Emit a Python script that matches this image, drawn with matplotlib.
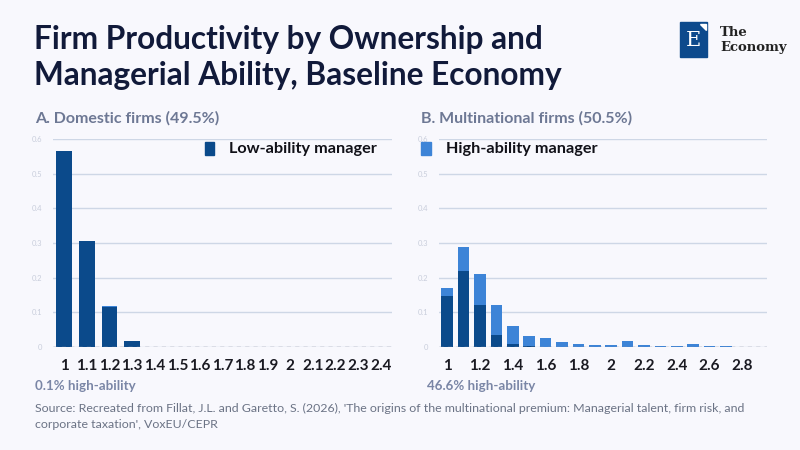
import numpy as np
import matplotlib.pyplot as plt
from matplotlib.patches import Rectangle, Polygon

# domestic firms, productivity bins 1.0 .. 2.4
dom_cats = ['1', '1.1', '1.2', '1.3', '1.4', '1.5', '1.6', '1.7', '1.8', '1.9',
            '2', '2.1', '2.2', '2.3', '2.4']
dom_low = [0.565, 0.305, 0.115, 0.016, 0, 0, 0, 0, 0, 0, 0, 0, 0, 0, 0]
dom_high = [0, 0, 0.002, 0, 0, 0, 0, 0, 0, 0, 0, 0, 0, 0, 0]

# multinational firms, bins 1.0 .. 2.9
mne_cats = ['1', '1.1', '1.2', '1.3', '1.4', '1.5', '1.6', '1.7', '1.8', '1.9',
            '2', '2.1', '2.2', '2.3', '2.4', '2.5', '2.6', '2.7', '2.8', '2.9']
mne_low = [0.147, 0.219, 0.121, 0.036, 0.010, 0.004, 0, 0, 0, 0,
           0, 0, 0, 0, 0, 0, 0, 0, 0, 0]
mne_high = [0.023, 0.070, 0.089, 0.085, 0.052, 0.029, 0.025, 0.013, 0.010, 0.007,
            0.007, 0.016, 0.007, 0.004, 0.004, 0.010, 0.004, 0.004, 0.001, 0]

yticks = [0, 0.1, 0.2, 0.3, 0.4, 0.5, 0.6]

BG = '#F8F8FD'
DARK = '#0B4A8B'
LIGHT = '#3D84D7'
NAVY = '#111A3A'
MUTED = '#6D7894'

plt.rcParams['font.family'] = ['Lato', 'DejaVu Sans']

fig = plt.figure(figsize=(8, 4.5), dpi=100, facecolor=BG)
W, H = 800, 450


def px(x, y):
    return x / W, 1 - y / H


def panel(rect, cats, low, high, label_every, subtitle, note, sub_x, note_x):
    ax = fig.add_axes(rect, facecolor=BG)
    x = np.arange(len(cats))
    ax.bar(x, low, width=0.7, color=DARK, zorder=3)
    ax.bar(x, high, bottom=low, width=0.7, color=LIGHT, zorder=3)
    ax.set_xlim(-0.5, len(cats) - 0.5)
    ax.set_ylim(0, 0.6)
    ax.set_yticks(yticks)
    ax.set_yticklabels([f'{t:g}' for t in yticks])
    ax.tick_params(axis='y', labelsize=5.5, labelcolor='#C9CEDC', length=0, pad=8)
    ax.set_xticks(x[::label_every])
    ax.set_xticklabels(cats[::label_every])
    ax.tick_params(axis='x', labelsize=11, labelcolor='#1A1A22', length=0, pad=9)
    for lab in ax.get_xticklabels():
        lab.set_fontweight('bold')
    ax.grid(axis='y', color='#CED7E6', linewidth=1, zorder=0)
    for s in ax.spines.values():
        s.set_visible(False)
    ax.axhline(0, color='#8A90A0', linewidth=1, linestyle=(0, (3, 3)), zorder=4)
    fig.text(*px(sub_x, 118), subtitle, fontsize=11.5, fontweight='bold',
             color=MUTED, va='center')
    fig.text(*px(note_x, 386), note, fontsize=9.6, fontweight='bold',
             color='#7A86A6', va='center')
    return ax


ax1 = panel([53 / W, 1 - 347 / H, 339 / W, 208 / H], dom_cats, dom_low, dom_high, 1,
            'A. Domestic firms (49.5%)', '0.1% high-ability', 35, 35)
ax2 = panel([439 / W, 1 - 347 / H, 328 / W, 208 / H], mne_cats, mne_low, mne_high, 2,
            'B. Multinational firms (50.5%)', '46.6% high-ability', 421, 427)

# legend entries
fig.patches.append(Rectangle(px(205, 155), 9 / W, 13 / H, transform=fig.transFigure,
                             color=DARK, figure=fig))
fig.text(*px(229, 149), 'Low-ability manager', fontsize=11.7, fontweight='bold',
         color='#111118', va='center')
fig.patches.append(Rectangle(px(421, 155), 10 / W, 13 / H, transform=fig.transFigure,
                             color=LIGHT, figure=fig))
fig.text(*px(446, 149), 'High-ability manager', fontsize=11.7, fontweight='bold',
         color='#111118', va='center')

# title
fig.text(*px(34, 40), 'Firm Productivity by Ownership and', fontsize=22.8,
         fontweight='bold', color=NAVY, va='center')
fig.text(*px(34, 75), 'Managerial Ability, Baseline Economy', fontsize=22.8,
         fontweight='bold', color=NAVY, va='center')

# logo
fig.patches.append(Rectangle(px(680, 57), 27 / W, 35 / H, transform=fig.transFigure,
                             color='#0D4A8C', figure=fig))
fig.patches.append(Polygon([px(700, 24), px(706, 24), px(706, 30)], closed=True,
                           transform=fig.transFigure, color='white', figure=fig))
fig.text(*px(693, 41), 'E', fontsize=15, family='DejaVu Serif', color='white',
         ha='center', va='center')
fig.text(*px(720, 33), 'The', fontsize=9.5, family='DejaVu Serif', fontweight='bold',
         color='#222', va='center')
fig.text(*px(720, 47), 'Economy', fontsize=9.5, family='DejaVu Serif', fontweight='bold',
         color='#222', va='center')

# source
fig.text(*px(35, 408), "Source: Recreated from Fillat, J.L. and Garetto, S. (2026), 'The origins "
         "of the multinational premium: Managerial talent, firm risk, and",
         fontsize=8.9, color='#6B7385', va='center')
fig.text(*px(35, 425), "corporate taxation', VoxEU/CEPR", fontsize=8.9, color='#6B7385',
         va='center')

fig.savefig('out.png', dpi=100, facecolor=BG)
